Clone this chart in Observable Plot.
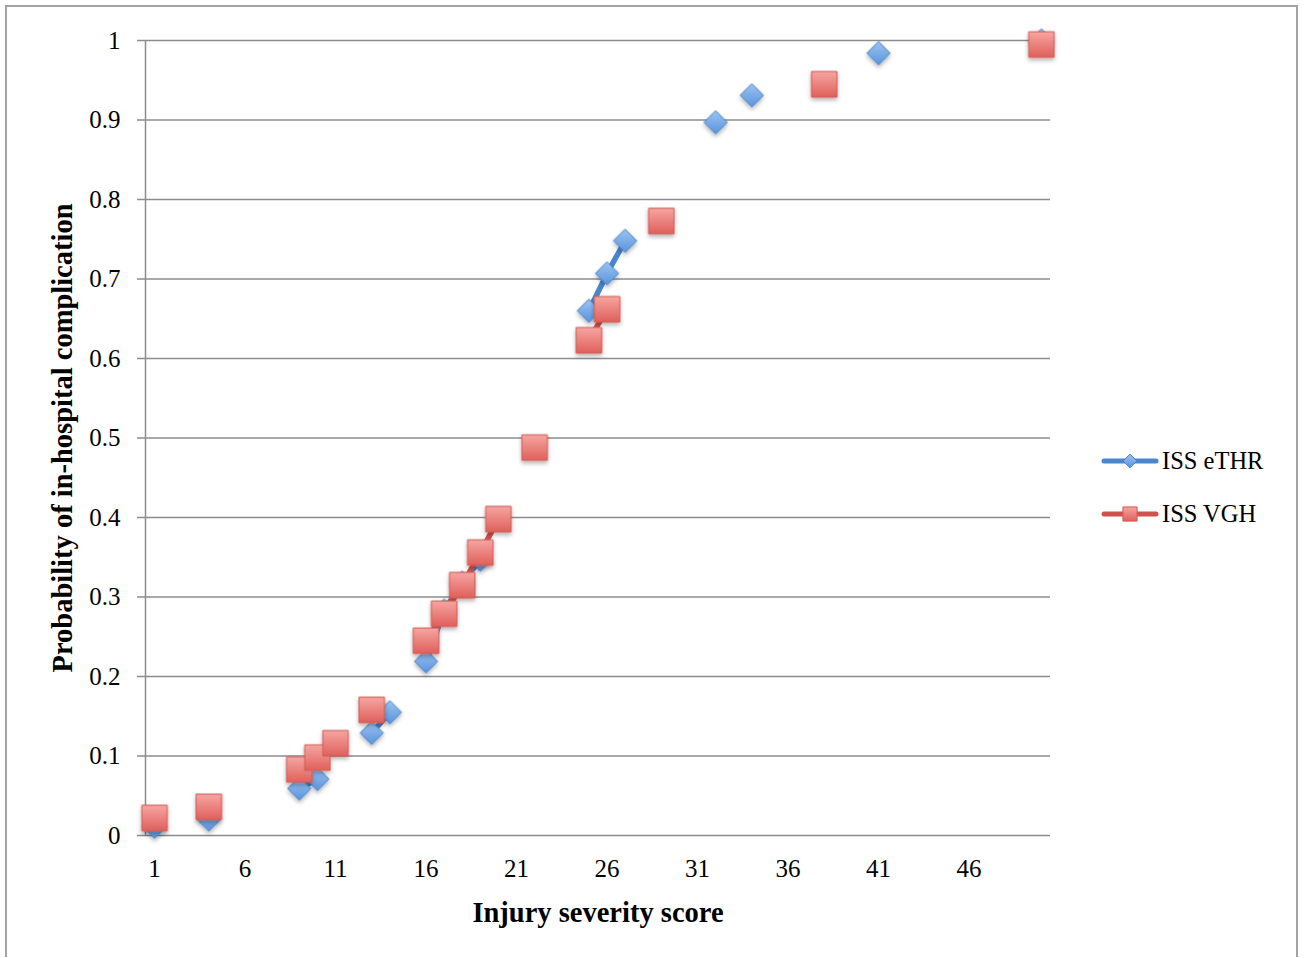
<!DOCTYPE html>
<html>
<head>
<meta charset="utf-8">
<script src="https://cdn.jsdelivr.net/npm/d3@7"></script>
<script src="https://cdn.jsdelivr.net/npm/@observablehq/plot@0.6"></script>
<style>
  html, body { margin: 0; padding: 0; background: #fff; }
  #frame {
    position: absolute; left: 5px; top: 5px; width: 1293px; height: 952px;
    border: 2px solid #a3a3a3; box-sizing: border-box; border-bottom: none;
  }
  #chart { position: absolute; left: 0; top: 0; }
  #chart [aria-label^="y-axis"] line,
  #chart [aria-label^="y-axis"] path,
  #chart g[aria-label="y-axis tick"] { stroke: #8c8c8c; stroke-width: 1.5; }
  #legend {
    position: absolute; left: 1100px; top: 434px;
    font-family: "Liberation Serif", serif; font-size: 24.5px; color: #000;
  }
  .item { display: flex; align-items: center; height: 53px; }
  .item svg { margin-right: 2px; }
</style>
</head>
<body>
<div id="frame"></div>
<div id="chart"></div>
<div id="legend"></div>
<script>
// Injury severity score (category) and probability of in-hospital complication
const ethrScore = [1, 4, 9, 10, 13, 14, 16, 17, 18, 19, 25, 26, 27, 32, 34, 41, 50];
const ethrProb  = [0.011, 0.020, 0.059, 0.071, 0.129, 0.155, 0.219, 0.283, 0.318, 0.347, 0.660, 0.707, 0.748, 0.897, 0.931, 0.984, 1.0];
const vghScore  = [1, 4, 9, 10, 11, 13, 16, 17, 18, 19, 20, 22, 25, 26, 29, 38, 50];
const vghProb   = [0.022, 0.036, 0.083, 0.098, 0.116, 0.158, 0.245, 0.279, 0.315, 0.356, 0.398, 0.488, 0.623, 0.662, 0.773, 0.945, 0.995];
const seriesNames = ["ISS eTHR", "ISS VGH"];
const xTicks = [1, 6, 11, 16, 21, 26, 31, 36, 41, 46];
const yTicks = [0, 0.1, 0.2, 0.3, 0.4, 0.5, 0.6, 0.7, 0.8, 0.9, 1];
const categories = d3.range(1, 51);

const points = (scores, probs) => scores.map((x, i) => ({x, y: probs[i]}));
// Full category run with gaps, so lines only join neighbouring categories
const run = (scores, probs) => categories.map(c => {
  const i = scores.indexOf(c);
  return {x: c, y: i < 0 ? NaN : probs[i]};
});

const blueLine = "#4a86cc", redLine = "#d0524d";

const chart = Plot.plot({
  width: 1305,
  height: 958,
  marginLeft: 145,
  marginRight: 255,
  marginTop: 40,
  marginBottom: 123,
  style: {fontFamily: "Liberation Serif", fontSize: "25px", color: "#000", background: "transparent", overflow: "visible"},
  x: {domain: [0.5, 50.5], ticks: xTicks, tickSize: 0, tickPadding: 24, tickFormat: d => String(d), label: null},
  y: {domain: [0, 1], ticks: yTicks, tickSize: 8, tickPadding: 17, tickFormat: d => String(+d.toFixed(1)), label: null},
  marks: [
    Plot.ruleY(yTicks, {stroke: "#8c8c8c", strokeWidth: 1.5}),
    Plot.ruleX([0.5], {stroke: "#8c8c8c", strokeWidth: 1.5}),
    Plot.line(run(ethrScore, ethrProb), {x: "x", y: "y", stroke: blueLine, strokeWidth: 5.5, strokeLinecap: "round"}),
    Plot.dot(points(ethrScore, ethrProb), {x: "x", y: "y", symbol: "diamond2", r: 10.5, fill: "url(#gBlue)", stroke: "#4a7fc2", strokeWidth: 1}),
    Plot.line(run(vghScore, vghProb), {x: "x", y: "y", stroke: redLine, strokeWidth: 5.5, strokeLinecap: "round"}),
    Plot.dot(points(vghScore, vghProb), {x: "x", y: "y", symbol: "square", r: 14.4, fill: "url(#gRed)", stroke: "#cf5a55", strokeWidth: 1}),
    Plot.text(["Injury severity score"], {text: d => d, frameAnchor: "bottom", dy: 77, lineAnchor: "middle", textAnchor: "middle", fontWeight: "bold", fontSize: 28.5, fill: "#000"}),
    Plot.text(["Probability of in-hospital complication"], {text: d => d, frameAnchor: "left", dx: -83, rotate: -90, lineAnchor: "middle", textAnchor: "middle", fontWeight: "bold", fontSize: 28.5, fill: "#000"})
  ]
});

// Gradients and soft shadow for the markers
const defs = d3.select(chart).insert("defs", ":first-child");
function grad(id, top, bottom) {
  const g = defs.append("linearGradient").attr("id", id).attr("x1", 0).attr("y1", 0).attr("x2", 0).attr("y2", 1);
  g.append("stop").attr("offset", "0%").attr("stop-color", top);
  g.append("stop").attr("offset", "100%").attr("stop-color", bottom);
}
grad("gBlue", "#9cc4f2", "#5a94dc");
grad("gRed", "#f6a6a2", "#e0605b");
const f = defs.append("filter").attr("id", "shadow").attr("x", "-50%").attr("y", "-50%").attr("width", "200%").attr("height", "200%");
f.append("feDropShadow").attr("dx", 0).attr("dy", 2.5).attr("stdDeviation", 2).attr("flood-color", "#000").attr("flood-opacity", 0.3);
d3.select(chart).selectAll('g[aria-label="dot"]').attr("filter", "url(#shadow)");

document.getElementById("chart").appendChild(chart);

// Legend: line sample with marker, then series name
const legend = d3.select("#legend");
const legendStyles = [
  {line: blueLine, symbol: d3.symbolDiamond2, size: 120, fill: "url(#lgBlue)", stroke: "#4a7fc2", top: "#9cc4f2", bottom: "#5a94dc", id: "lgBlue"},
  {line: redLine, symbol: d3.symbolSquare, size: 200, fill: "url(#lgRed)", stroke: "#cf5a55", top: "#f6a6a2", bottom: "#e0605b", id: "lgRed"}
];
seriesNames.forEach((name, i) => {
  const s = legendStyles[i];
  const item = legend.append("div").attr("class", "item");
  const svg = item.append("svg").attr("width", 60).attr("height", 24);
  const lg = svg.append("defs").append("linearGradient").attr("id", s.id).attr("x1", 0).attr("y1", 0).attr("x2", 0).attr("y2", 1);
  lg.append("stop").attr("offset", "0%").attr("stop-color", s.top);
  lg.append("stop").attr("offset", "100%").attr("stop-color", s.bottom);
  svg.append("line").attr("x1", 4).attr("x2", 56).attr("y1", 12).attr("y2", 12)
    .attr("stroke", s.line).attr("stroke-width", 5).attr("stroke-linecap", "round");
  svg.append("path").attr("d", d3.symbol(s.symbol, s.size)()).attr("transform", "translate(30,12)")
    .attr("fill", s.fill).attr("stroke", s.stroke);
  item.append("span").text(name);
});
</script>
</body>
</html>
